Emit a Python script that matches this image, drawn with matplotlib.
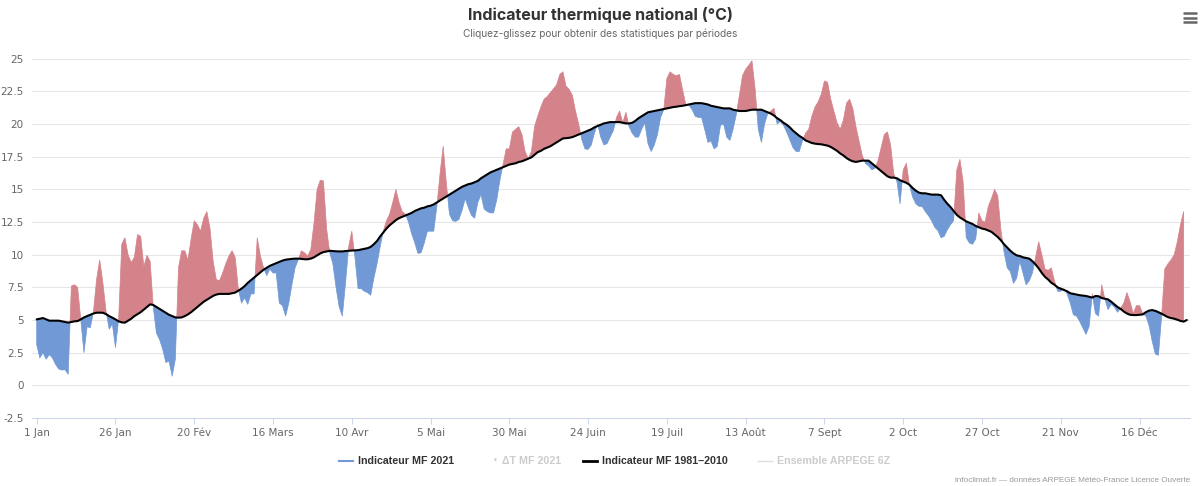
import numpy as np
import matplotlib
matplotlib.use("Agg")
import matplotlib.pyplot as plt
from matplotlib.lines import Line2D

W, H = 1200, 486

# x ticks every 25 days from 1 Jan
TICK_DAYS = [0, 25, 50, 75, 100, 125, 150, 175, 200, 225, 250, 275, 300, 325, 350]
TICK_LABELS = ["1 Jan", "26 Jan", "20 Fév", "16 Mars", "10 Avr", "5 Mai", "30 Mai",
               "24 Juin", "19 Juil", "13 Août", "7 Sept", "2 Oct", "27 Oct",
               "21 Nov", "16 Déc"]
Y_TICKS = [-2.5, 0, 2.5, 5, 7.5, 10, 12.5, 15, 17.5, 20, 22.5, 25]

# Indicateur MF 2021 (daily, °C)
T_2021 = [
    3.1, 2.1, 2.5, 2.0, 2.35, 2.1, 1.6, 1.25, 1.17, 1.2,
    0.85, 7.6, 7.7, 7.5, 5.0, 2.5, 4.5, 4.4, 5.6, 8.1,
    9.6, 7.85, 5.7, 4.3, 4.7, 2.9, 5.05, 10.8, 11.3, 10.0,
    9.4, 9.8, 11.55, 11.4, 9.1, 9.95, 9.5, 6.0, 4.0, 3.5,
    2.75, 1.75, 1.85, 0.7, 2.0, 9.0, 10.3, 10.3, 9.6, 11.2,
    12.6, 12.3, 11.8, 12.8, 13.3, 12.0, 9.5, 8.1, 8.0, 8.6,
    9.3, 9.9, 10.3, 9.8, 7.35, 6.3, 6.7, 6.2, 7.0, 7.0,
    11.3, 9.9, 9.0, 8.4, 8.9, 8.6, 8.6, 6.3, 6.1, 5.3,
    6.3, 7.7, 9.0, 9.6, 10.3, 10.15, 9.9, 10.4, 12.4, 15.0,
    15.7, 15.65, 12.0, 10.15, 9.3, 7.5, 6.0, 5.3, 7.8, 10.6,
    11.8, 9.8, 7.4, 7.4, 7.2, 7.1, 6.9, 8.2, 9.3, 10.6,
    11.8, 12.6, 13.1, 14.0, 15.0, 14.0, 13.3, 13.1, 12.5, 11.6,
    10.9, 10.1, 10.15, 10.9, 11.8, 11.8, 11.8, 13.7, 16.2, 18.3,
    15.5, 13.1, 12.6, 12.55, 12.7, 13.4, 14.3, 13.6, 13.0, 12.8,
    14.0, 14.6, 13.5, 13.3, 13.2, 13.2, 14.2, 15.7, 16.9, 18.1,
    18.1, 19.4, 19.6, 19.8, 19.2, 17.9, 17.35, 17.9, 19.8, 20.6,
    21.3, 21.9, 22.1, 22.4, 22.7, 23.0, 23.8, 24.0, 22.9, 22.65,
    22.2, 21.0, 20.0, 18.8, 18.1, 18.06, 18.4, 19.3, 20.0, 19.0,
    18.4, 18.5, 19.0, 19.5, 20.5, 21.0, 20.1, 20.9, 19.8, 19.3,
    19.0, 19.0, 19.6, 20.1, 18.5, 17.9, 18.4, 19.2, 20.5, 21.1,
    23.5, 24.0, 23.8, 23.7, 23.8, 22.6, 21.5, 21.45, 21.1, 20.6,
    20.5, 20.5, 19.6, 18.6, 18.7, 18.1, 18.3, 19.9, 20.0, 19.0,
    18.75, 19.6, 20.7, 22.2, 23.7, 24.2, 24.5, 24.85, 22.7, 19.6,
    18.6, 20.0, 20.8, 21.0, 21.2, 20.0, 20.2, 19.9, 19.4, 18.8,
    18.2, 17.9, 17.9, 18.7, 19.3, 19.6, 20.6, 21.3, 21.7, 22.3,
    23.3, 23.2, 21.9, 21.0, 20.1, 19.6, 20.3, 21.6, 21.9, 21.2,
    19.8, 18.7, 17.6, 17.0, 16.8, 16.5, 16.6, 17.2, 18.2, 19.2,
    19.4, 18.4, 16.2, 15.6, 13.9, 16.5, 17.0, 15.3, 14.4, 13.9,
    13.7, 13.7, 13.3, 13.0, 12.6, 12.1, 11.85, 11.3, 11.4, 11.9,
    12.3, 12.6, 16.5, 17.3, 15.6, 11.3, 10.9, 10.8, 11.2, 13.2,
    12.6, 12.5, 13.7, 14.3, 15.0, 14.5, 11.9, 10.2, 9.0, 8.7,
    7.8, 8.2, 9.5, 8.6, 7.7, 8.0, 8.6, 9.8, 11.0, 10.0,
    8.9, 8.8, 9.0, 8.0, 7.2, 7.2, 7.4, 7.0, 6.3, 5.4,
    5.3, 4.9, 4.4, 3.9, 4.5, 7.0, 5.5, 5.3, 7.7, 6.6,
    5.8, 6.2, 6.0, 5.6, 5.9, 6.3, 7.1, 6.4, 5.5, 6.1,
    6.1, 5.5, 5.3, 4.6, 3.4, 2.4, 2.3, 5.3, 8.9, 9.3,
    9.6, 10.0, 11.0, 12.3, 13.3,
]

# Indicateur MF 1981-2010 (daily normal, °C)
T_NORMAL = [
    5.05, 5.1, 5.15, 5.05, 4.95, 4.95, 4.95, 4.95, 4.9, 4.85,
    4.8, 4.85, 4.9, 4.92, 5.05, 5.2, 5.3, 5.4, 5.5, 5.56,
    5.56, 5.56, 5.45, 5.3, 5.18, 5.05, 4.9, 4.82, 4.8, 4.95,
    5.1, 5.3, 5.45, 5.6, 5.8, 6.0, 6.2, 6.15, 6.0, 5.85,
    5.7, 5.55, 5.4, 5.3, 5.2, 5.18, 5.2, 5.3, 5.43, 5.6,
    5.8, 6.0, 6.2, 6.4, 6.55, 6.7, 6.85, 6.95, 7.0, 7.0,
    7.0, 7.0, 7.05, 7.1, 7.25, 7.4, 7.6, 7.85, 8.05, 8.25,
    8.45, 8.65, 8.85, 9.0, 9.15, 9.25, 9.35, 9.45, 9.55, 9.62,
    9.65, 9.68, 9.7, 9.7, 9.68, 9.65, 9.65, 9.7, 9.8, 9.95,
    10.1, 10.2, 10.25, 10.3, 10.28, 10.26, 10.25, 10.25, 10.28, 10.3,
    10.32, 10.33, 10.35, 10.4, 10.45, 10.5, 10.6, 10.8, 11.05, 11.4,
    11.7, 12.0, 12.25, 12.45, 12.65, 12.8, 12.9, 13.0, 13.1, 13.2,
    13.35, 13.45, 13.55, 13.6, 13.7, 13.75, 13.85, 14.0, 14.15, 14.3,
    14.45, 14.6, 14.75, 14.9, 15.05, 15.2, 15.3, 15.4, 15.45, 15.55,
    15.65, 15.85, 16.0, 16.15, 16.3, 16.4, 16.5, 16.6, 16.7, 16.8,
    16.9, 16.95, 17.0, 17.1, 17.15, 17.25, 17.35, 17.45, 17.65, 17.85,
    17.95, 18.1, 18.2, 18.3, 18.45, 18.6, 18.75, 18.9, 18.92, 18.95,
    19.0, 19.1, 19.2, 19.3, 19.4, 19.5, 19.6, 19.75, 19.85, 19.95,
    20.05, 20.1, 20.15, 20.15, 20.15, 20.15, 20.1, 20.05, 20.05, 20.1,
    20.25, 20.45, 20.6, 20.75, 20.9, 20.95, 21.0, 21.05, 21.1, 21.15,
    21.2, 21.25, 21.3, 21.33, 21.37, 21.4, 21.45, 21.5, 21.55, 21.6,
    21.6, 21.6, 21.55, 21.5, 21.4, 21.35, 21.3, 21.25, 21.2, 21.2,
    21.2, 21.1, 21.05, 21.0, 21.0, 21.0, 21.05, 21.1, 21.1, 21.1,
    21.1, 21.0, 20.9, 20.8, 20.65, 20.45, 20.3, 20.1, 19.95, 19.75,
    19.5, 19.3, 19.1, 18.95, 18.75, 18.65, 18.55, 18.5, 18.47, 18.45,
    18.4, 18.35, 18.25, 18.1, 17.95, 17.75, 17.6, 17.4, 17.25, 17.15,
    17.1, 17.15, 17.2, 17.2, 17.2, 17.0, 16.8, 16.6, 16.4, 16.2,
    16.0, 15.9, 15.9, 15.85, 15.7, 15.6, 15.5, 15.35, 15.1, 14.9,
    14.75, 14.7, 14.7, 14.65, 14.6, 14.6, 14.6, 14.55, 14.2, 13.9,
    13.65, 13.35, 13.05, 12.85, 12.7, 12.55, 12.45, 12.35, 12.2, 12.1,
    12.0, 11.95, 11.85, 11.75, 11.55, 11.35, 11.1, 10.8, 10.55, 10.3,
    10.1, 9.95, 9.9, 9.8, 9.75, 9.7, 9.5, 9.25, 8.95, 8.6,
    8.3, 8.1, 7.85, 7.7, 7.5, 7.4, 7.3, 7.2, 7.05, 7.0,
    6.95, 6.9, 6.87, 6.84, 6.78, 6.72, 6.84, 6.82, 6.68, 6.63,
    6.58, 6.4, 6.2, 6.0, 5.85, 5.65, 5.5, 5.4, 5.38, 5.38,
    5.4, 5.43, 5.6, 5.72, 5.76, 5.7, 5.6, 5.48, 5.35, 5.22,
    5.15, 5.1, 5.02, 4.93, 4.88, 5.0,
]

RED = "#d4838a"
BLUE = "#7099d5"
GRID = "#e6e6e6"
LABEL = "#666666"
DARK = "#333333"


def fx(x):
    return x / W


def fy(y):
    return 1 - y / H


def build_chart(out_path):
    fig = plt.figure(figsize=(W / 100, H / 100), dpi=100, facecolor="white")
    left, right, top, bottom = 32, 1190, 58.75, 418
    ax = fig.add_axes([fx(left), fy(bottom), (right - left) / W, (bottom - top) / H])

    t21 = np.array(T_2021)
    norm = np.array(T_NORMAL)
    x21 = np.arange(len(t21))
    xn = np.arange(len(norm))
    n21 = norm[:len(t21)]

    ax.fill_between(x21, n21, t21, where=t21 >= n21, interpolate=True,
                    facecolor=RED, edgecolor=RED, lw=0.5, zorder=2)
    ax.fill_between(x21, n21, t21, where=t21 <= n21, interpolate=True,
                    facecolor=BLUE, edgecolor=BLUE, lw=0.5, zorder=2)
    ax.plot(xn, norm, color="black", lw=1.5, zorder=4, solid_capstyle="round")

    # x in day units: 1 Jan sits 4.7 px right of the plot edge, 3.151 px/day
    ax.set_xlim(-4.7 / 3.151, (right - left - 4.7) / 3.151)
    ax.set_ylim(-2.5, 25)

    ax.set_yticks(Y_TICKS)
    ax.set_yticklabels([f"{v:g}" for v in Y_TICKS])
    ax.set_xticks(TICK_DAYS)
    ax.set_xticklabels(TICK_LABELS)
    ax.grid(axis="y", color=GRID, lw=0.75, zorder=0)
    ax.set_axisbelow(True)
    for s in ["top", "right", "left"]:
        ax.spines[s].set_visible(False)
    ax.spines["bottom"].set_color("#ccd6eb")
    ax.spines["bottom"].set_linewidth(0.75)
    ax.tick_params(axis="y", length=0, pad=6, labelsize=7.5, labelcolor=LABEL)
    ax.tick_params(axis="x", length=4, width=0.75, color="#ccd6eb", pad=3,
                   labelsize=7.5, labelcolor=LABEL)
    for lab in ax.get_xticklabels() + ax.get_yticklabels():
        lab.set_fontfamily("DejaVu Sans")

    # title & subtitle
    fig.text(0.5, fy(15), "Indicateur thermique national (°C)", ha="center",
             va="center", fontfamily="Inter", fontweight="bold", fontsize=11.5,
             color=DARK)
    fig.text(0.5, fy(34), "Cliquez-glissez pour obtenir des statistiques par périodes",
             ha="center", va="center", fontfamily="Inter", fontsize=7.3,
             color=LABEL)

    # hamburger menu
    for yy in (13.3, 17.7, 22):
        fig.add_artist(Line2D([fx(1183), fx(1196.5)], [fy(yy), fy(yy)],
                              color="#666666", lw=1.8, solid_capstyle="butt"))

    # legend
    ly = 460.5
    legend_items = [
        (338.6, 353, BLUE, 1.5, "Indicateur MF 2021", DARK),
        (None, None, None, 0, "ΔT MF 2021", "#cccccc"),
        (582.8, 597, "black", 2.0, "Indicateur MF 1981–2010", DARK),
        (758, 772, "#dddddd", 1.0, "Ensemble ARPEGE 6Z", "#cccccc"),
    ]
    text_x = [357.6, 502, 601.8, 777]
    for (x0, x1, col, lw, label, tcol), tx in zip(legend_items, text_x):
        if x0 is not None:
            fig.add_artist(Line2D([fx(x0), fx(x1)], [fy(ly), fy(ly)], color=col, lw=lw))
        fig.text(fx(tx), fy(ly), label, ha="left", va="center",
                 fontfamily="Liberation Sans", fontweight="bold", fontsize=7.7,
                 color=tcol)
    fig.text(fx(495.6), fy(ly), "•", ha="center", va="center", fontsize=6,
             color="#cccccc")

    # credits
    fig.text(fx(1190), fy(480), "infoclimat.fr — données ARPEGE Météo-France Licence Ouverte",
             ha="right", va="center", fontfamily="Liberation Sans", fontsize=5.85,
             color="#999999")

    fig.savefig(out_path, dpi=100, facecolor="white")
    plt.close(fig)


if __name__ == "__main__":
    build_chart("out.png")
